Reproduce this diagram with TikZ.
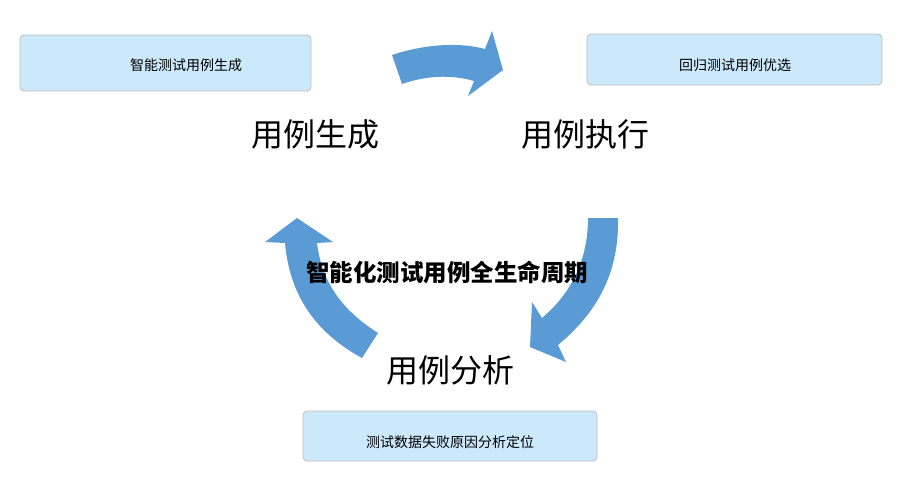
\documentclass[tikz,border=0pt]{standalone}
\usepackage{fontspec}
\newfontfamily\cjk{Noto Sans CJK SC}
\definecolor{arrowblue}{HTML}{5B9BD5}
\definecolor{boxfill}{HTML}{CCE9FC}
\definecolor{boxline}{HTML}{BEBEBE}
\tikzset{
  infobox/.style={draw=boxline, fill=boxfill, rounded corners=4pt, line width=0.8pt},
  boxtext/.style={font=\cjk\fontsize{14}{16}\selectfont, inner sep=0pt},
  stagelabel/.style={font=\cjk\fontsize{32}{36}\selectfont, inner sep=0pt},
  titletext/.style={font=\cjk\bfseries\fontsize{23.5}{26}\selectfont, inner sep=0pt},
  bluearrow/.style={fill=arrowblue, draw=none}
}
\begin{document}
\begin{tikzpicture}[x=1pt,y=-1pt]
\useasboundingbox (0,0) rectangle (905,482);
% boxes
\draw[infobox] (20,35) rectangle (311,91);
\draw[infobox] (587,34) rectangle (882,85);
\draw[infobox] (303,411) rectangle (597,461);
\node[boxtext] (b1) at (186,65) {智能测试用例生成};
\node[boxtext] (b2) at (735,65) {回归测试用例优选};
\node[boxtext] (b3) at (450,442) {测试数据失败原因分析定位};
% curved block arrows
\fill[bluearrow] (392,55) .. controls (425,44) and (460,42) .. (485,49)
  -- (492,31) -- (503,70) -- (468,96) -- (474,81)
  .. controls (450,74) and (425,76) .. (402,84) -- cycle;
\fill[bluearrow] (588,218) -- (618,218)
  .. controls (619,270) and (600,310) .. (558,345)
  -- (566,362) -- (530,347) -- (532,302) -- (542,318)
  .. controls (575,290) and (588,255) .. (588,218) -- cycle;
\fill[bluearrow] (297,218) -- (333,242) -- (317,243)
  .. controls (322,285) and (345,312) .. (378,333)
  -- (362,358) .. controls (320,335) and (290,300) .. (285,243)
  -- (265,242) -- cycle;
% stage labels
\node[stagelabel] (gen) at (315,134) {用例生成};
\node[stagelabel] (exe) at (585,134) {用例执行};
\node[stagelabel] (ana) at (450,370) {用例分析};
\node[titletext] (title) at (447,272) {智能化测试用例全生命周期};
\end{tikzpicture}
\end{document}
